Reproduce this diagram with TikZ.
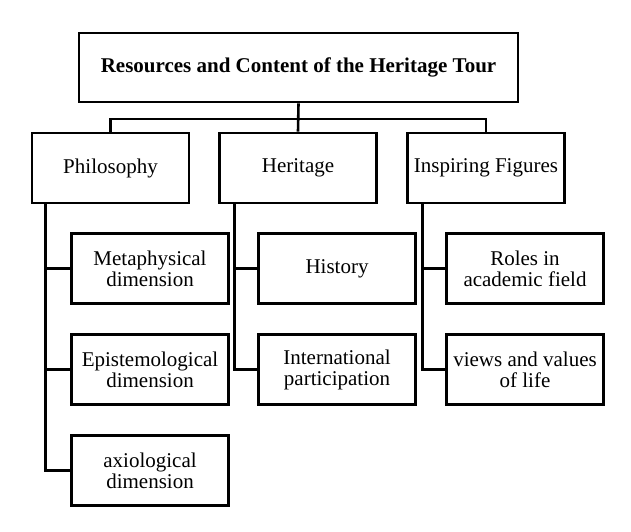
\documentclass[tikz,border=0pt]{standalone}
\usepackage{fontspec}
\setmainfont{Liberation Serif}
\usetikzlibrary{calc}

\tikzset{
  box/.style={draw,line width=2.6pt,fill=white,align=center,
    minimum width=157pt,minimum height=70pt,inner sep=2pt,
    font=\fontsize{21}{21}\selectfont},
  link/.style={line width=2.6pt}
}

\begin{document}
\begin{tikzpicture}[x=1pt,y=-1pt]
\useasboundingbox (0,0) rectangle (631,531);
\node[box,minimum width=439pt,minimum height=69pt,font=\fontsize{21}{21}\selectfont\bfseries] (tour) at (298.5,67.5) {Resources and Content of the Heritage Tour};
\node[box] (phil) at (110.5,168) {Philosophy};
\node[box] (heri) at (298,168) {Heritage};
\node[box] (insp) at (486,168) {Inspiring Figures};
\node[box] (meta) at (150,268.5) {Metaphysical\\dimension};
\node[box] (epis) at (150,369.5) {Epistemological\\dimension};
\node[box] (axio) at (150,470.5) {axiological\\dimension};
\node[box] (hist) at (337,268.5) {History};
\node[box] (intl) at (337,369.5) {International\\participation};
\node[box] (role) at (525,268.5) {Roles in\\academic field};
\node[box] (view) at (525,369.5) {views and values\\of life};
\coordinate (bar) at (298,119);
\coordinate (pstem) at ($(phil.south west)+(15,0)$);
\coordinate (hstem) at ($(heri.south west)+(16,0)$);
\coordinate (istem) at ($(insp.south west)+(16,0)$);
% top level
\draw[link] (tour.south) -- (heri.north);
\draw[link] (phil.north) |- (bar) -| (insp.north);
% branches
\draw[link] (pstem) |- (axio.west);
\draw[link] (pstem |- meta.west) -- (meta.west);
\draw[link] (pstem |- epis.west) -- (epis.west);
\draw[link] (hstem) |- (intl.west);
\draw[link] (hstem |- hist.west) -- (hist.west);
\draw[link] (istem) |- (view.west);
\draw[link] (istem |- role.west) -- (role.west);
\end{tikzpicture}
\end{document}
